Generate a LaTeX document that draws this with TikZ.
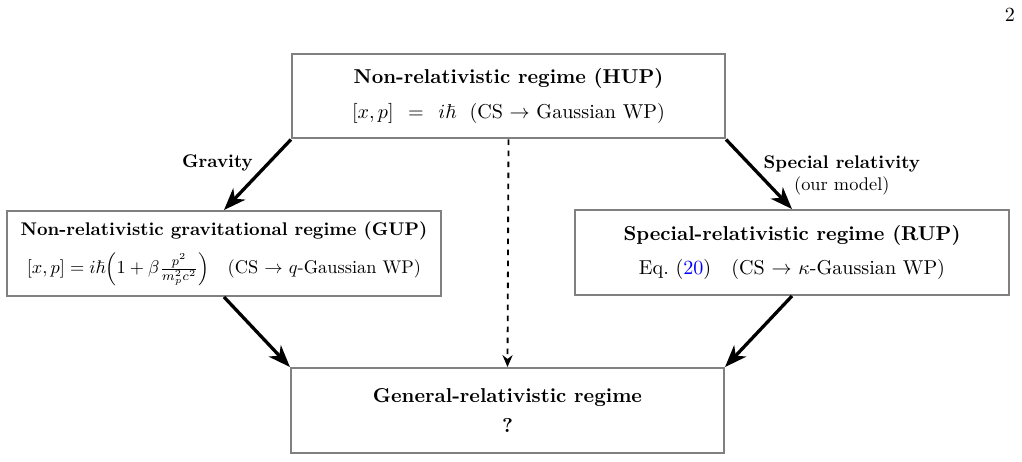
\documentclass[tikz,border=0pt,11pt]{standalone}
\usepackage{amsmath,amssymb}
\usepackage{tikz}
\usetikzlibrary{arrows.meta,positioning}

\begin{document}
\begin{tikzpicture}[x=0.545pt,y=-0.545pt,
    regime/.style={draw=black!50,line width=1.1pt,align=center,
                   minimum width=236pt,minimum height=46.3pt,inner sep=0pt},
    flow/.style={line width=1.8pt,-{Stealth[length=12pt,width=9pt,inset=3.5pt]}},
    guess/.style={line width=1pt,dashed,-{Stealth[length=6.5pt,width=5.5pt]}},
    hint/.style={font=\small,align=center}]
  \useasboundingbox (0,0) rectangle (1022,461);
  \node (pagenum) at (1010,15) {2};
  % the four regimes
  \node[regime] (hup) at (508.5,96)
    {\textbf{Non-relativistic regime (HUP)}\\[5pt]
     $[x,p]\;\,=\;\,i\hbar$ \ (CS $\to$ Gaussian WP)};
  \node[regime,font=\small] (gup) at (224,253.5)
    {\textbf{Non-relativistic gravitational regime (GUP)}\\[6pt]
     $[x,p]=i\hbar\Big(1+\beta\frac{p^2}{m_p^2c^2}\Big)$ \ \ (CS $\to$ $q$-Gaussian WP)};
  \node[regime] (rup) at (792,252.5)
    {\textbf{Special-relativistic regime (RUP)}\\[5pt]
     Eq.~(\textcolor{blue}{20}) \ \ (CS $\to$ $\kappa$-Gaussian WP)};
  \node[regime] (gr) at (507.5,410.5)
    {\textbf{General-relativistic regime}\\[3pt]
     \textbf{?}};
  % connectors
  \draw[flow] (hup.south west) -- (gup.north)
    node[hint,midway,anchor=east,xshift=2pt,yshift=6.3pt] (gravity) {\bfseries Gravity};
  \draw[flow] (hup.south east) -- (rup.north)
    node[hint,midway,anchor=west,xshift=-2pt,yshift=-0.5pt] (special) {\textbf{Special relativity}\\(our model)};
  \draw[flow] (gup.south) -- (gr.north west);
  \draw[flow] (rup.south) -- (gr.north east);
  \draw[guess] (hup.south) -- (gr.north);
\end{tikzpicture}
\end{document}
